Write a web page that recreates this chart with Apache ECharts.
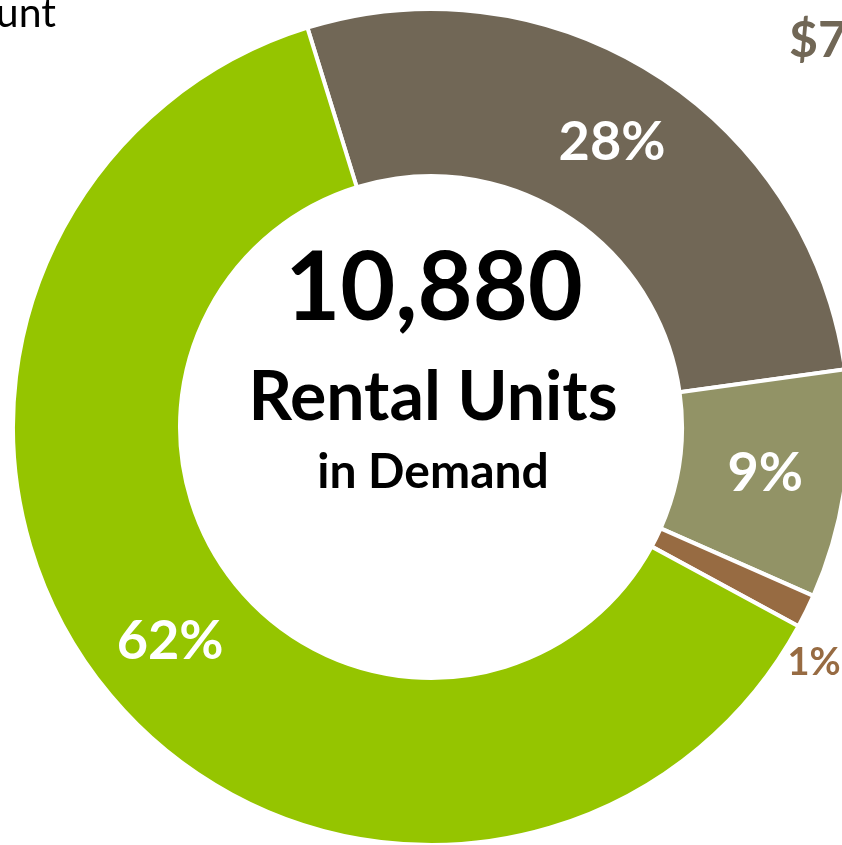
<!DOCTYPE html>
<html>
<head>
<meta charset="utf-8">
<script src="https://cdn.jsdelivr.net/npm/echarts@6/dist/echarts.min.js"></script>
<style>
  html, body { margin: 0; padding: 0; background: #fff; }
  #chart { width: 842px; height: 845px; }
</style>
</head>
<body>
<div id="chart"></div>
<script>
const categories = ['$750+', '$500 - $749', '$250 - $499', 'Under $250']
const units = [3000, 960, 140, 6780]
const colors = ['#716756', '#929366', '#976b42', '#95c500']
const totalLabel = '10,880'

const font = 'Lato, "Open Sans", sans-serif'
const chart = echarts.init(document.getElementById('chart'))

const labelFor = (i) => {
  if (i === 2) {
    // small slice: label sits just outside the ring
    return {
      position: 'inside',
      offset: [80, 87],
      color: '#976b42',
      fontSize: 38,
      fontWeight: 'bold',
      fontFamily: font,
    }
  }
  return {
    position: 'inside',
    color: '#fff',
    fontSize: 54,
    fontWeight: 'bold',
    fontFamily: font,
  }
}

chart.setOption({
  animation: false,
  series: [
    {
      type: 'pie',
      center: [431, 427],
      radius: [251, 418],
      startAngle: 107.2,
      clockwise: true,
      avoidLabelOverlap: false,
      itemStyle: { borderColor: '#fff', borderWidth: 4 },
      labelLine: { show: false },
      label: {
        formatter: (p) => Math.round(p.percent) + '%',
      },
      data: categories.map((name, i) => ({
        name,
        value: units[i],
        itemStyle: { color: colors[i] },
        label: labelFor(i),
      })),
    },
  ],
  graphic: [
    {
      type: 'text',
      x: 434,
      y: 289,
      style: {
        text: totalLabel,
        font: 'bold 95px ' + font,
        fill: '#000',
        textAlign: 'center',
        textVerticalAlign: 'middle',
      },
    },
    {
      type: 'text',
      x: 433,
      y: 398,
      style: {
        text: 'Rental Units',
        font: 'bold 68px ' + font,
        fill: '#000',
        textAlign: 'center',
        textVerticalAlign: 'middle',
      },
    },
    {
      type: 'text',
      x: 433,
      y: 473,
      style: {
        text: 'in Demand',
        font: 'bold 48px ' + font,
        fill: '#000',
        textAlign: 'center',
        textVerticalAlign: 'middle',
      },
    },
    {
      type: 'text',
      x: 56,
      y: 14,
      style: {
        text: 'Rent Amount',
        font: '41px ' + font,
        fill: '#000',
        textAlign: 'right',
        textVerticalAlign: 'middle',
      },
    },
    {
      type: 'text',
      x: 789,
      y: 41,
      style: {
        text: '$7',
        font: 'bold 50px ' + font,
        fill: '#716756',
        textAlign: 'left',
        textVerticalAlign: 'middle',
      },
    },
  ],
})
</script>
</body>
</html>
